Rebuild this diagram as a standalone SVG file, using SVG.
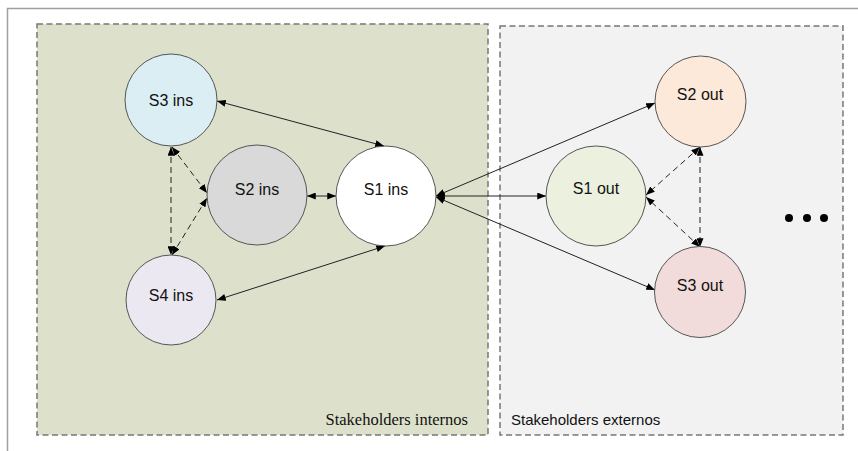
<svg xmlns="http://www.w3.org/2000/svg" width="858" height="451" viewBox="0 0 858 451">
<defs>
<marker id="ah" viewBox="0 0 10 8" refX="10" refY="4" markerWidth="9" markerHeight="7" markerUnits="userSpaceOnUse" orient="auto-start-reverse">
<path d="M0,0 L10,4 L0,8 z" fill="#000"/>
</marker>
<style>
.frame{fill:none;stroke:#a0a0a0;stroke-width:1.5}
.box{stroke:#777;stroke-width:1.5;stroke-dasharray:6,3.5}
.node{stroke:#555;stroke-width:1}
.lbl{font-family:"Liberation Sans",Arial,sans-serif;font-size:16px;fill:#111;text-anchor:middle}
.con{stroke:#222;stroke-width:1;fill:none;marker-start:url(#ah);marker-end:url(#ah)}
.dash{stroke-dasharray:6,4}
</style>
</defs>
<rect width="858" height="451" fill="#fff"/>
<path class="frame" d="M858,8.5 H7.5 V451"/>
<g id="group-internos">
<rect class="box" x="37" y="24" width="451" height="411" fill="#dde1cb"/>
<text x="468" y="425" font-family="'Liberation Serif','Times New Roman',serif" font-size="16.5" fill="#111" text-anchor="end">Stakeholders internos</text>
</g>
<g id="group-externos">
<rect class="box" x="500" y="26" width="343" height="409" fill="#f2f2f2"/>
<text x="511" y="425" font-family="'Liberation Sans',Arial,sans-serif" font-size="15" fill="#111">Stakeholders externos</text>
</g>
<g id="connectors">
<line class="con" x1="217" y1="101" x2="384" y2="146"/>
<line class="con" x1="307" y1="196" x2="336" y2="196"/>
<line class="con" x1="217" y1="300" x2="385" y2="246"/>
<line class="con" x1="436" y1="196" x2="655" y2="103"/>
<line class="con" x1="436" y1="196" x2="546" y2="196"/>
<line class="con" x1="436" y1="197" x2="655" y2="290"/>
<line class="con dash" x1="171" y1="147" x2="171" y2="255"/>
<line class="con dash" x1="172" y1="147" x2="207" y2="193"/>
<line class="con dash" x1="172" y1="255" x2="207" y2="198"/>
<line class="con dash" x1="700" y1="147" x2="700" y2="247"/>
<line class="con dash" x1="700" y1="147" x2="646" y2="195"/>
<line class="con dash" x1="700" y1="247" x2="646" y2="197"/>
</g>
<g id="S3ins"><circle class="node" cx="171" cy="100" r="46" fill="#daeef3"/><text class="lbl" x="171" y="106">S3 ins</text></g>
<g id="S2ins"><circle class="node" cx="257" cy="195" r="50" fill="#d9d9d9"/><text class="lbl" x="257" y="195">S2 ins</text></g>
<g id="S1ins"><circle class="node" cx="386" cy="196" r="50" fill="#ffffff"/><text class="lbl" x="386" y="195">S1 ins</text></g>
<g id="S4ins"><circle class="node" cx="171" cy="300" r="45" fill="#ebe8f1"/><text class="lbl" x="171" y="301">S4 ins</text></g>
<g id="S1out"><circle class="node" cx="596" cy="196" r="50" fill="#ebf1de"/><text class="lbl" x="596" y="194">S1 out</text></g>
<g id="S2out"><circle class="node" cx="700.5" cy="101.5" r="45.5" fill="#fde9d9"/><text class="lbl" x="700" y="100">S2 out</text></g>
<g id="S3out"><circle class="node" cx="700" cy="292" r="45.5" fill="#f2dcdb"/><text class="lbl" x="700" y="291">S3 out</text></g>
<g id="ellipsis" fill="#000">
<circle cx="789" cy="218" r="4"/><circle cx="807" cy="218" r="4"/><circle cx="824" cy="218" r="4"/>
</g>
</svg>
